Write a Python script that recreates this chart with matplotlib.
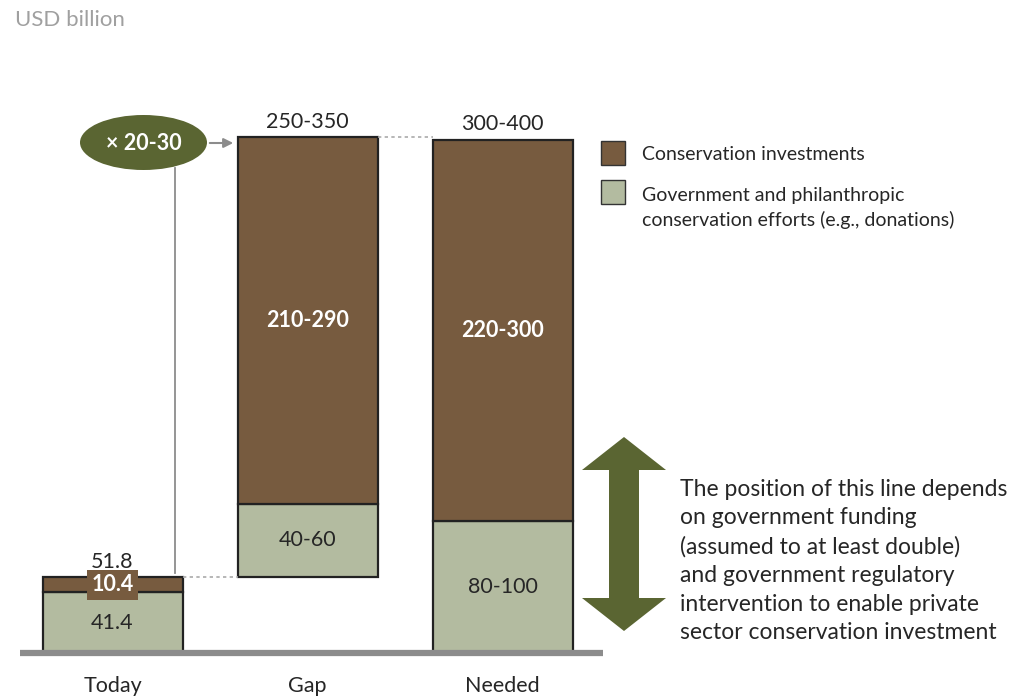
import matplotlib
matplotlib.use("Agg")
import matplotlib.pyplot as plt
from matplotlib.patches import Ellipse, Polygon, Rectangle

plt.rcParams['font.family'] = ['Lato', 'DejaVu Sans']

# data
categories = ['Today', 'Gap', 'Needed']
gov = [41.4, 50, 90]
cons = [10.4, 250, 260]
bases = [0, 51.8, 0]
gov_labels = ['41.4', '40-60', '80-100']
cons_labels = ['10.4', '210-290', '220-300']
total_labels = ['51.8', '250-350', '300-400']
multiplier = '\u00d7 20-30'

brown = '#775b3f'
green = '#b3bba0'
olive = '#5a6532'
dark = '#262626'
grey = '#8c8c8c'

xpos = [112.5, 307.5, 502.5]
w = 140
s = 513 / 350  # px per unit

fig = plt.figure(figsize=(10.16, 6.96), dpi=100)
ax = fig.add_axes([0, 0, 1, 1])
ax.set_xlim(0, 1016)
ax.set_ylim(-43 / s, (696 - 43) / s)
ax.axis('off')

bottoms2 = [b + g for b, g in zip(bases, gov)]
tops = [b + c for b, c in zip(bottoms2, cons)]
ax.bar(xpos, gov, width=w, bottom=bases, color=green, edgecolor='#222222', linewidth=1.6, zorder=2)
ax.bar(xpos, cons, width=w, bottom=bottoms2, color=brown, edgecolor='#222222', linewidth=1.6, zorder=2)
ax.plot([20, 603], [0, 0], color=grey, lw=4.5, solid_capstyle='butt', zorder=3)

for i in range(3):
    ax.text(xpos[i], bases[i] + gov[i] / 2, gov_labels[i], ha='center', va='center',
            fontsize=15.5, color=dark, zorder=4)
    if i == 0:
        ax.text(xpos[i], bottoms2[i] + cons[i] / 2, cons_labels[i], ha='center', va='center',
                fontsize=15.5, color='white', fontweight='bold', zorder=4,
                bbox=dict(boxstyle='square,pad=0.2', fc=brown, ec='none'))
    else:
        ax.text(xpos[i], bottoms2[i] + cons[i] / 2, cons_labels[i], ha='center', va='center',
                fontsize=15.5, color='white', fontweight='bold', zorder=4)
    ax.annotate(total_labels[i], (xpos[i], tops[i]), xytext=(0, 4), textcoords='offset points',
                ha='center', va='bottom', fontsize=15.5, color=dark)
    ax.annotate(categories[i], (xpos[i], 0), xytext=(0, -23.5), textcoords='offset points',
                ha='center', va='center', fontsize=15.5, color=dark)

# dotted connectors
ax.plot([xpos[0] + w / 2, xpos[1] - w / 2], [tops[0], tops[0]], color='#aaaaaa', lw=1.2, ls=(0, (2, 2)))
ax.plot([xpos[1] + w / 2, xpos[2] - w / 2], [tops[1], tops[1]], color='#aaaaaa', lw=1.2, ls=(0, (2, 2)))

# overlay in pixel coords
ov = fig.add_axes([0, 0, 1, 1])
ov.set_xlim(0, 1016)
ov.set_ylim(696, 0)
ov.axis('off')
ov.patch.set_alpha(0)

ov.text(15, 20, 'USD billion', fontsize=16, color='#a0a0a0', va='center', ha='left')

ov.plot([175, 175], [168, 573], color=grey, lw=1.3)
ov.add_patch(Ellipse((143.5, 142.5), 127, 55, fc=olive, ec='none', zorder=3))
ov.text(143.5, 143, multiplier, color='white', fontsize=15.5, fontweight='bold', ha='center', va='center', zorder=4)
ov.annotate('', xy=(236, 143), xytext=(207, 143),
            arrowprops=dict(arrowstyle='-|>', color=grey, lw=1.5, mutation_scale=14))

# legend
ov.add_patch(Rectangle((601, 141), 24, 24, fc=brown, ec='#333333', lw=1))
ov.add_patch(Rectangle((601, 180), 24, 24, fc=green, ec='#333333', lw=1))
ov.text(642, 155, 'Conservation investments', fontsize=14, color=dark, va='center')
ov.text(642, 208, 'Government and philanthropic\nconservation efforts (e.g., donations)',
        fontsize=14, color=dark, va='center', linespacing=1.4)

# double arrow
ov.add_patch(Polygon([(624, 437), (666, 470), (639, 470), (639, 598), (666, 598),
                      (624, 631), (582, 598), (609, 598), (609, 470), (582, 470)],
                     closed=True, fc=olive, ec='none'))
ov.text(680, 561, 'The position of this line depends\non government funding\n(assumed to at least double)\n'
        'and government regulatory\nintervention to enable private\nsector conservation investment',
        fontsize=16.5, color=dark, va='center', ha='left', linespacing=1.44)

fig.savefig('out.png', dpi=100)
